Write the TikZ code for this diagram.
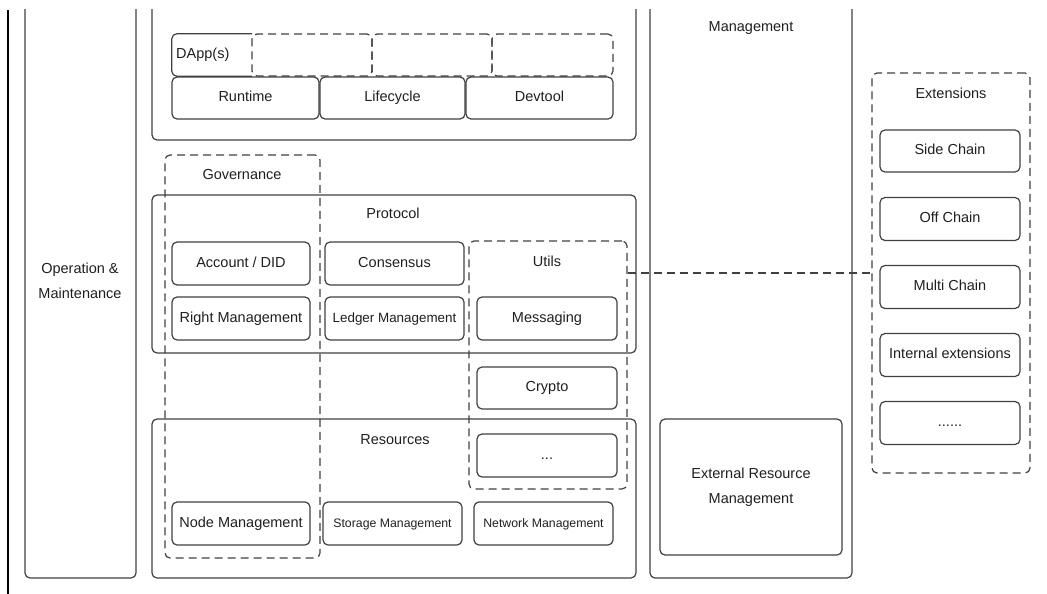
\documentclass[tikz,border=0pt]{standalone}
\usepackage{fontspec}
\setmainfont{Liberation Sans}
\begin{document}
\begin{tikzpicture}[x=1pt,y=-1pt,
  line/.style={draw=black!75, line width=1.2pt},
  txt/.style={inner sep=0pt, text=black!88, font=\fontsize{14.5}{22}\selectfont,
    text height=10.5pt, text depth=3pt},
  twoline/.style={align=center, text height={}, text depth={},
    font=\fontsize{14.5}{25.5}\selectfont},
  box/.style={txt, line, rounded corners=5pt, align=center},
  dbox/.style={box, dash pattern=on 8pt off 5pt},
  cell/.style={box, minimum height=42pt},
  smallcell/.style={cell, font=\fontsize{12.3}{15}\selectfont},
  midcell/.style={cell, font=\fontsize{13.4}{16}\selectfont},
  plain/.style={inner sep=0pt, minimum height=42pt}]
\useasboundingbox (0,0) rectangle (1047,594);

% left rule
\draw[black, line width=1.6pt] (8,10) coordinate (ruletop) -- (8,594) coordinate (rulebot);

\begin{scope}
\clip (0,10) rectangle (1047,594);
% tall columns running off the top edge
\node[box, minimum width=111pt, minimum height=598pt] (ops) at (80.5,279) {};
\node[box, minimum width=484pt, minimum height=160pt] (applayer) at (394,60) {};
\node[box, minimum width=202pt, minimum height=598pt] (mgmt) at (751,279) {};
\end{scope}

\node[txt, twoline] (opslabel) at (80,281) {Operation \&\\Maintenance};
\node[txt] (mgmtlabel) at (751,28) {Management};

% application layer
\node[plain, minimum width=80pt] (dappbox) at (212,55) {};
\draw[line, rounded corners=5pt] (dappbox.north east) -| (dappbox.south west) -- (dappbox.south east);
\node[txt, anchor=west] (dapp) at (176,55) {DApp(s)};
\node[dbox, minimum width=120pt, minimum height=42pt] (d1) at (312,55) {};
\node[dbox, minimum width=120pt, minimum height=42pt] (d2) at (432,55) {};
\node[dbox, minimum width=121pt, minimum height=42pt] (d3) at (552.5,55) {};
\node[cell, minimum width=147pt] (runtime) at (245.5,98) {Runtime};
\node[cell, minimum width=145pt] (lifecycle) at (392.5,98) {Lifecycle};
\node[cell, minimum width=147pt] (devtool) at (539.5,98) {Devtool};

% protocol layer
\node[box, minimum width=484pt, minimum height=158pt] (protocol) at (394,274) {};
\node[txt] (protolabel) at (393,215) {Protocol};
\node[cell, minimum width=138pt, minimum height=43pt] (account) at (241,263.5) {Account / DID};
\node[cell, minimum width=138pt, minimum height=43pt] (right) at (241,318.5) {Right Management};
\node[cell, minimum width=139pt, minimum height=43pt] (consensus) at (394.5,263.5) {Consensus};
\node[midcell, minimum width=139pt, minimum height=43pt] (ledger) at (394.5,318.5) {Ledger Management};
\node[cell, minimum width=140pt, minimum height=43pt] (messaging) at (547,318.5) {Messaging};
\node[cell, minimum width=140pt] (crypto) at (547,388) {Crypto};

% resources layer
\node[box, minimum width=484pt, minimum height=159pt] (resources) at (394,498.5) {};
\node[txt] (reslabel) at (395,441) {Resources};
\node[cell, minimum width=140pt, minimum height=43pt] (more) at (547,455.5) {...};
\node[cell, minimum width=138pt, minimum height=43pt] (nodemgmt) at (241,523.5) {Node Management};
\node[smallcell, minimum width=139pt, minimum height=43pt] (storage) at (392.5,523.5) {Storage Management};
\node[smallcell, minimum width=139pt, minimum height=43pt] (network) at (543.5,523.5) {Network Management};

% cross-cutting groups
\node[dbox, minimum width=155pt, minimum height=403pt] (gov) at (242.5,356.5) {};
\node[txt] (govlabel) at (242,176) {Governance};
\node[dbox, minimum width=158pt, minimum height=248pt] (utils) at (548,365) {};
\node[txt] (utilslabel) at (547,263) {Utils};

% external resources
\node[box, twoline, minimum width=182pt, minimum height=136pt] (extres) at (751,487) {External Resource\\Management};

% extensions
\node[dbox, minimum width=158pt, minimum height=400pt] (ext) at (951,273) {};
\node[txt] (extlabel) at (951,95) {Extensions};
\node[cell, minimum width=140pt] (side) at (950,151) {Side Chain};
\node[cell, minimum width=140pt, minimum height=43pt] (off) at (950,219) {Off Chain};
\node[cell, minimum width=140pt, minimum height=43pt] (multi) at (950,287) {Multi Chain};
\node[cell, minimum width=140pt, minimum height=43pt] (internal) at (950,355) {Internal extensions};
\node[cell, minimum width=140pt, minimum height=43pt] (etc) at (950,423) {......};

% link from utils to extensions
\draw[line, dash pattern=on 8pt off 5pt] (utils.east |- ext.west) -- (ext.west);
\end{tikzpicture}
\end{document}
